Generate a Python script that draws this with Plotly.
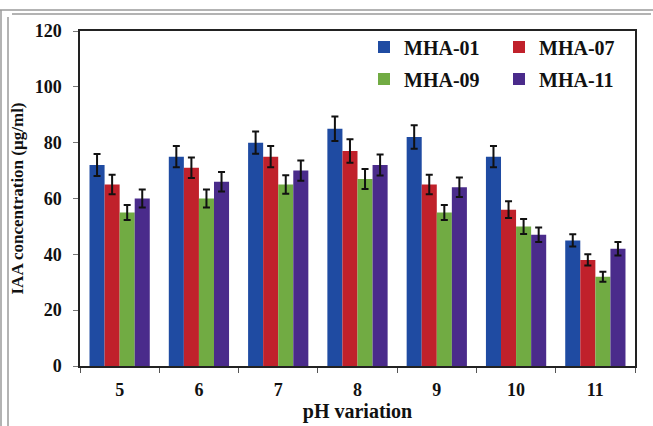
import plotly.graph_objects as go

# pH levels tested and mean IAA production (µg/ml) for each isolate
ph_levels = ["5", "6", "7", "8", "9", "10", "11"]
mha01 = [72, 75, 80, 85, 82, 75, 45]
mha07 = [65, 71, 75, 77, 65, 56, 38]
mha09 = [55, 60, 65, 67, 55, 50, 32]
mha11 = [60, 66, 70, 72, 64, 47, 42]

# standard deviations
mha01_sd = [3.9, 3.8, 4.0, 4.4, 4.2, 3.8, 2.2]
mha07_sd = [3.5, 3.7, 3.8, 4.2, 3.5, 3.0, 2.0]
mha09_sd = [2.7, 3.2, 3.3, 3.6, 2.7, 2.7, 1.8]
mha11_sd = [3.2, 3.5, 3.6, 3.8, 3.5, 2.6, 2.4]

series = [
    ("MHA-01", mha01, mha01_sd, "#1f4ba2", "legend"),
    ("MHA-07", mha07, mha07_sd, "#c0212b", "legend"),
    ("MHA-09", mha09, mha09_sd, "#71ab43", "legend2"),
    ("MHA-11", mha11, mha11_sd, "#4a2b8b", "legend2"),
]

W, H = 653, 426
L, R, T, B = 80, 18, 31, 60
serif = "Liberation Serif, Times New Roman, serif"

fig = go.Figure()
for name, vals, sd, color, lg in series:
    fig.add_trace(go.Bar(
        name=name, x=ph_levels, y=vals, marker_color=color,
        marker_line_width=0, legend=lg,
        error_y=dict(type="data", array=sd, visible=True,
                     color="#111111", thickness=2, width=3.5),
    ))

pw, ph = W - L - R, H - T - B


def px_x(v):
    return (v - L) / pw


def px_y(v):
    return (H - B - v) / ph


# double grey frame around the figure
frame = dict(color="#9a9a9a", width=1.5)
shapes = [
    dict(type="line", xref="paper", yref="paper", x0=px_x(0), x1=px_x(W),
         y0=px_y(10), y1=px_y(10), line=frame),
    dict(type="line", xref="paper", yref="paper", x0=px_x(1), x1=px_x(1),
         y0=px_y(10), y1=px_y(H), line=frame),
    dict(type="line", xref="paper", yref="paper", x0=px_x(12), x1=px_x(651),
         y0=px_y(14), y1=px_y(14), line=frame),
    dict(type="line", xref="paper", yref="paper", x0=px_x(8), x1=px_x(8),
         y0=px_y(17), y1=px_y(H), line=frame),
]

legend_common = dict(
    orientation="h", xanchor="left", yanchor="middle",
    font=dict(family=serif, size=20, color="#111111", weight="bold"),
    bgcolor="rgba(0,0,0,0)", entrywidth=90, entrywidthmode="pixels",
    itemwidth=30, tracegroupgap=0,
)

fig.update_layout(
    width=W, height=H,
    margin=dict(l=L, r=R, t=T, b=B, autoexpand=False),
    paper_bgcolor="white", plot_bgcolor="white",
    barmode="group", bargap=0.24, bargroupgap=0,
    font=dict(family=serif, color="#111111"),
    showlegend=True,
    legend=dict(x=px_x(364), y=px_y(47), **legend_common),
    legend2=dict(x=px_x(364), y=px_y(79), **legend_common),
    shapes=shapes,
    xaxis=dict(
        type="category", tickson="boundaries", ticks="outside", ticklen=5,
        tickcolor="#555555", showline=True, linecolor="#222222", linewidth=1.5,
        mirror=True, showgrid=False, ticklabelstandoff=7,
        tickfont=dict(family=serif, size=18, color="#111111", weight="bold"),
        title=dict(text="<b>pH variation</b>", standoff=4,
                   font=dict(family=serif, size=20, color="#111111")),
    ),
    yaxis=dict(
        range=[0, 120], dtick=20, ticks="outside", ticklen=5,
        tickcolor="#777777", showline=True, linecolor="#222222", linewidth=1.5,
        mirror=True, showgrid=False, zeroline=False, ticklabelstandoff=8,
        tickfont=dict(family=serif, size=18, color="#111111", weight="bold"),
        title=dict(text="<b>IAA concentration (µg/ml)</b>", standoff=7,
                   font=dict(family=serif, size=17, color="#111111")),
    ),
)

fig.write_html("out.html")
